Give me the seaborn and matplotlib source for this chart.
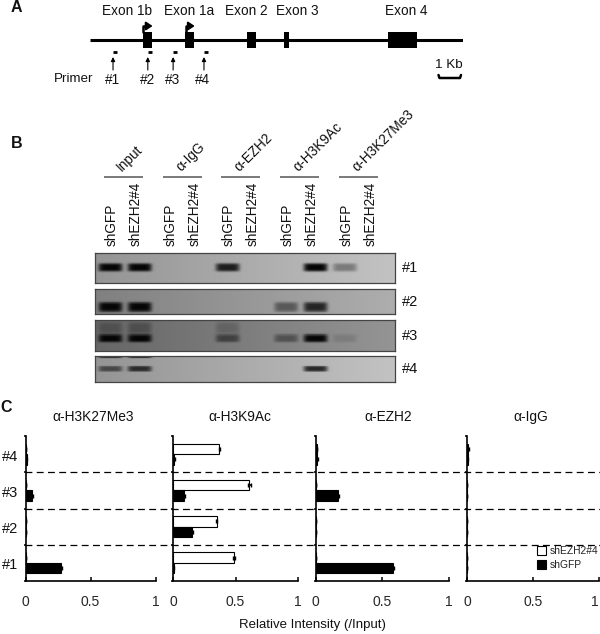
import matplotlib as mpl
import matplotlib.pyplot as plt
import numpy as np
import pandas as pd
import seaborn as sns

# Use a non-interactive backend
mpl.use('Agg')

W, H = 600, 634

# panel A, gene model in Kb
gene_length = 16.2
exon_names = ['Exon 1b', 'Exon 1a', 'Exon 2', 'Exon 3', 'Exon 4']
exon_start = [2.3, 4.13, 6.83, 8.43, 12.96]
exon_end = [2.7, 4.52, 7.22, 8.65, 14.22]
exon_label_kb = [1.6, 4.3, 6.8, 9.0, 13.75]
tss_kb = [2.32, 4.15]
primer_names = ['#1', '#2', '#3', '#4']
primer_kb = [1.09, 2.6, 3.7, 5.04]
primer_label_kb = [0.96, 2.5, 3.57, 4.9]

# panel B, band strength per lane (1 = saturated) for each primer
lane_names = ['shGFP', 'shEZH2#4']
antibodies_b = ['Input', 'α-IgG', 'α-EZH2', 'α-H3K9Ac', 'α-H3K27Me3']
gel_1 = [1.0, 1.0, 0.0, 0.0, 0.85, 0.0, 0.0, 1.0, 0.35, 0.0]
gel_2 = [1.0, 1.0, 0.0, 0.0, 0.0, 0.0, 0.45, 0.8, 0.0, 0.0]
gel_3 = [1.0, 1.0, 0.0, 0.0, 0.5, 0.0, 0.4, 1.0, 0.12, 0.0]
gel_4 = [0.55, 0.75, 0.0, 0.0, 0.0, 0.0, 0.0, 0.8, 0.0, 0.0]
gels = [gel_1, gel_2, gel_3, gel_4]
gel_band_pos = [0.47, 0.72, 0.59, 0.49]
gel_band_thick = [0.14, 0.2, 0.13, 0.11]
gel_back_left = [0.58, 0.50, 0.40, 0.58]
gel_back_right = [0.76, 0.68, 0.58, 0.76]
# smear above the bands in #3, cut-off bands on the top edge of #4
extra_3 = [0.25, 0.3, 0.0, 0.0, 0.2, 0.0, 0.0, 0.0, 0.0, 0.0]
extra_4 = [0.9, 0.9, 0.0, 0.0, 0.0, 0.0, 0.0, 0.0, 0.0, 0.0]
gel_extra = [None, None, extra_3, extra_4]
gel_extra_pos = [0, 0, 0.25, 0.0]
gel_extra_thick = [0, 0, 0.2, 0.07]

# panel C, order is #4 #3 #2 #1
primers_c = ['#4', '#3', '#2', '#1']
antibodies_c = ['α-H3K27Me3', 'α-H3K9Ac', 'α-EZH2', 'α-IgG']
ez_values = [[0, 0, 0, 0], [0.37, 0.61, 0.35, 0.49], [0.01, 0, 0, 0], [0.01, 0, 0, 0]]
gfp_values = [[0.01, 0.05, 0, 0.27], [0.01, 0.09, 0.155, 0.005], [0.01, 0.17, 0, 0.58], [0.005, 0, 0, 0]]
ez_err = [[0, 0, 0, 0], [0.005, 0.01, 0.005, 0.008], [0.002, 0, 0, 0], [0.002, 0, 0, 0]]
gfp_err = [[0.005, 0.005, 0, 0.012], [0.003, 0.005, 0.003, 0.002], [0.005, 0.008, 0, 0.01], [0.002, 0, 0, 0]]

sns.set_theme(style='white')
plt.rcParams['font.family'] = ['Liberation Sans', 'DejaVu Sans']
plt.rcParams['text.color'] = '#111111'


def px_axes(fig, left, top, right, bottom, **kw):
    # axes placed by reference pixel box
    return fig.add_axes([left / W, 1 - bottom / H, (right - left) / W, (bottom - top) / H], **kw)


def add_bands(img, lanes, pos, thick, xx, yy):
    for i, s in enumerate(lanes):
        if s == 0:
            continue
        cx = (15 + i * 29.4) / 300
        shape_y = np.exp(-((yy - pos) / thick) ** 4)
        shape_x = np.exp(-((xx - cx) / 0.04) ** 6)
        img = img * (1 - s * shape_y * shape_x) + 0.02 * s * shape_y * shape_x
    return img


def gel_matrix(i, rows=60, cols=300):
    yy = np.linspace(0, 1, rows)[:, None]
    xx = np.linspace(0, 1, cols)[None, :]
    img = gel_back_left[i] + (gel_back_right[i] - gel_back_left[i]) * xx * np.ones((rows, cols))
    if gel_extra[i] is not None:
        img = add_bands(img, gel_extra[i], gel_extra_pos[i], gel_extra_thick[i], xx, yy)
    return add_bands(img, gels[i], gel_band_pos[i], gel_band_thick[i], xx, yy)


fig = plt.figure(figsize=(W / 100, H / 100), dpi=100)

# overlay in pixels for the loose text
over = px_axes(fig, 0, 0, W, H)
over.set_xlim(0, W)
over.set_ylim(H, 0)
over.axis('off')
over.set_zorder(5)
over.patch.set_alpha(0)

over.text(11, 8, 'A', fontsize=11.5, fontweight='bold', ha='left', va='center')
over.text(11, 143, 'B', fontsize=11.5, fontweight='bold', ha='left', va='center')
over.text(0, 408, 'C', fontsize=11.5, fontweight='bold', ha='left', va='center')

# panel A
gene = px_axes(fig, 90, 0, 463, 100)
gene.set_xlim(0, gene_length)
gene.set_ylim(100, 0)
gene.axis('off')
gene.hlines(40, 0, gene_length, color='black', lw=2.2)
for name, s, e, c in zip(exon_names, exon_start, exon_end, exon_label_kb):
    gene.fill_between([s, e], 32, 48, color='black', lw=0)
    gene.text(c, 11, name, fontsize=9.8, ha='center', va='center')
for t in tss_kb:
    gene.plot([t, t, t + 0.2], [32, 26, 26], color='black', lw=1.8, solid_joinstyle='round')
    gene.annotate('', xy=(t + 0.4, 26), xytext=(t + 0.1, 26),
                  arrowprops=dict(arrowstyle='-|>,head_width=0.2,head_length=0.3', color='black', lw=1.5,
                                  shrinkA=0, shrinkB=0))
for name, p, c in zip(primer_names, primer_kb, primer_label_kb):
    gene.hlines(52, p - 0.09, p + 0.09, color='black', lw=2)
    gene.annotate('', xy=(p - 0.09, 57), xytext=(p - 0.09, 70),
                  arrowprops=dict(arrowstyle='-|>,head_width=0.1,head_length=0.2', color='black', lw=0.8,
                                  shrinkA=0, shrinkB=0))
    gene.text(c, 79.5, name, fontsize=9.8, ha='center', va='center')
over.text(54, 79.5, 'Primer', fontsize=9.6, ha='left', va='center')
over.text(449, 65, '1 Kb', fontsize=9.6, ha='center', va='center')
over.plot([438.5, 439.5, 460, 461], [75, 78, 78, 75], color='black', lw=1.8)

# panel B, labels over the gels
group_left = [104, 163, 221, 280, 339]
for i, name in enumerate(antibodies_b):
    g = group_left[i]
    over.hlines(176.5, g, g + 39, color='#555555', lw=1.1)
    over.text(g + 20, 174, name, fontsize=9.8, rotation=45, ha='left', va='bottom', rotation_mode='anchor')
    over.text(g + 8, 246, lane_names[0], fontsize=9.8, rotation=90, ha='center', va='bottom')
    over.text(g + 32, 246, lane_names[1], fontsize=9.8, rotation=90, ha='center', va='bottom')

# gels
gel_boxes = [(253, 283), (289, 314), (320, 351), (356, 382)]
for i, (top, bottom) in enumerate(gel_boxes):
    ax = px_axes(fig, 95, top, 395, bottom)
    sns.heatmap(gel_matrix(i), ax=ax, cmap='gray', vmin=0, vmax=1, cbar=False, xticklabels=False, yticklabels=False)
    for s in ax.spines.values():
        s.set_visible(True)
        s.set_color('#444444')
        s.set_linewidth(0.9)
    over.text(402, (top + bottom) / 2, '#%d' % (i + 1), fontsize=10.5, ha='left', va='center')

# panel C
panel_left = [25.5, 173, 315.5, 467]
panel_right = [155.5, 298, 449, 599]
title_x = [93, 240, 388, 531]
for i, name in enumerate(antibodies_c):
    ax = px_axes(fig, panel_left[i], 436, panel_right[i], 581)
    df = pd.DataFrame({
        'primer': primers_c * 2,
        'value': ez_values[i] + gfp_values[i],
        'line': ['shEZH2#4'] * 4 + ['shGFP'] * 4,
    })
    sns.barplot(data=df, x='value', y='primer', hue='line', order=primers_c, hue_order=['shEZH2#4', 'shGFP'],
                palette={'shEZH2#4': 'white', 'shGFP': 'black'}, edgecolor='black', linewidth=0.8,
                width=0.58, errorbar=None, orient='h', ax=ax, legend=(i == 3))
    for container, vals, errs in zip(ax.containers, [ez_values[i], gfp_values[i]], [ez_err[i], gfp_err[i]]):
        ys = [b.get_y() + b.get_height() / 2 for b in container]
        ax.errorbar(vals, ys, xerr=errs, fmt='none', ecolor='black', elinewidth=1.2, capsize=1.5, capthick=1)
    ax.set_xlim(0, 1)
    ax.set_ylim(3.5, -0.5)
    ax.set_xticks([0, 0.5, 1])
    ax.set_xticklabels(['0', '0.5', '1'], fontsize=10)
    ax.set_yticks([-0.5, 0.5, 1.5, 2.5, 3.5])
    ax.set_yticklabels([])
    ax.set_xlabel('')
    ax.set_ylabel('')
    ax.tick_params(axis='x', direction='in', length=3, width=1.1, color='black', pad=10, bottom=True)
    ax.tick_params(axis='y', direction='out', length=1.5, width=1.1, color='black', left=True)
    ax.spines['top'].set_visible(False)
    ax.spines['right'].set_visible(False)
    for s in ['left', 'bottom']:
        ax.spines[s].set_color('black')
        ax.spines[s].set_linewidth(1.2)
    ax.patch.set_alpha(0)
    over.text(title_x[i], 417, name, fontsize=9.9, ha='center', va='center')
    if i == 0:
        for p, y in zip(primers_c, range(4)):
            ax.text(-0.055, y + 0.07, p, fontsize=10.5, ha='right', va='center', transform=ax.get_yaxis_transform())
    if i == 3:
        # last 1 sits right on the image edge
        ax.get_xticklabels()[-1].set_ha('right')
        leg = ax.legend(frameon=False, fontsize=7.4, handlelength=0.9, handleheight=0.9, handletextpad=0.35,
                        labelspacing=0.4, loc='upper left', bbox_to_anchor=((537 - 467) / 132, (581 - 546) / 145),
                        borderpad=0, borderaxespad=0, title=None)
        for t in leg.get_texts():
            t.set_color('#222222')

for y in [0.5, 1.5, 2.5]:
    py = 436 + (y + 0.5) * 145 / 4
    over.plot([25, 600], [py, py], color='black', lw=0.9, ls=(0, (5.5, 3.5)))

over.text(312, 625, 'Relative Intensity (/Input)', fontsize=9.5, ha='center', va='center')

fig.savefig('out.png', dpi=100)
plt.close()
